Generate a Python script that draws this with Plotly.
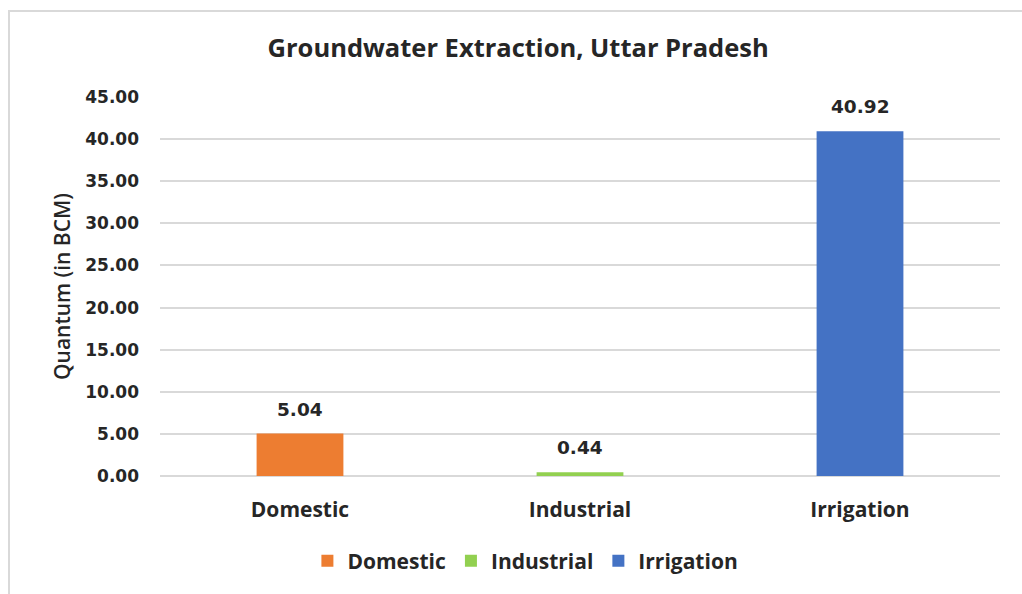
import plotly.graph_objects as go

categories = ["Domestic", "Industrial", "Irrigation"]
values = [5.04, 0.44, 40.92]
colors = ["#ED7D31", "#92D050", "#4472C4"]
y_ticks = [0, 5, 10, 15, 20, 25, 30, 35, 40, 45]

W, H = 1022, 594
L, R, T, B = 160, 22, 97, 118
pw, ph = W - L - R, H - T - B
TXT = "#262626"

fig = go.Figure()
for c, v, col in zip(categories, values, colors):
    fig.add_trace(go.Bar(
        x=[c], y=[v], name=c, marker=dict(color=col, line=dict(width=0)),
        width=0.31, hoverinfo="x+y",
    ))

annotations = []
for c, v in zip(categories, values):
    annotations.append(dict(
        x=c, y=v, xref="x", yref="y", text=f"<b>{v:.2f}</b>", showarrow=False,
        yanchor="bottom", yshift=12, font=dict(size=18.5, color=TXT, family="DejaVu Sans"),
    ))

fig.update_layout(
    width=W, height=H,
    margin=dict(l=L, r=R, t=T, b=B),
    paper_bgcolor="white", plot_bgcolor="white",
    barmode="overlay",
    title=dict(text="Groundwater Extraction, Uttar Pradesh", x=0.507, xanchor="center",
               y=1 - 48 / H, yanchor="middle",
               font=dict(size=25.5, color=TXT, family="Open Sans", weight="bold")),
    xaxis=dict(
        type="category", showgrid=False, showline=False, ticks="",
        tickfont=dict(size=21, color=TXT, family="Open Sans", weight="bold"),
        ticklabelstandoff=19,
    ),
    yaxis=dict(
        range=[0, 45], tickvals=y_ticks, tickformat=".2f",
        showgrid=True, gridcolor="#D9D9D9", gridwidth=2,
        zeroline=True, zerolinecolor="#D9D9D9", zerolinewidth=2,
        showline=False, ticks="",
        tickfont=dict(size=17, color=TXT, family="DejaVu Sans", weight="bold"),
        ticklabelstandoff=20,
        title=dict(text="Quantum (in BCM)", standoff=8,
                   font=dict(size=21, color=TXT, family="Open Sans", weight=600)),
    ),
    legend=dict(orientation="h", x=0.435, xanchor="center", y=-(561 - 476) / ph, yanchor="middle",
                font=dict(size=21, color=TXT, family="Open Sans", weight="bold"),
                itemwidth=30, tracegroupgap=0),
    showlegend=True,
    annotations=annotations,
    shapes=[dict(type="rect", xref="paper", yref="paper",
                 x0=(9 - L) / pw, x1=(1040 - L) / pw,
                 y0=(T + ph - 610) / ph, y1=(T + ph - 11) / ph,
                 line=dict(color="#D9D9D9", width=2), fillcolor="rgba(0,0,0,0)", layer="below")],
)

fig.write_html("out.html", config={"displayModeBar": False},
               post_script="document.body.style.margin='0';document.body.style.overflow='hidden';")
